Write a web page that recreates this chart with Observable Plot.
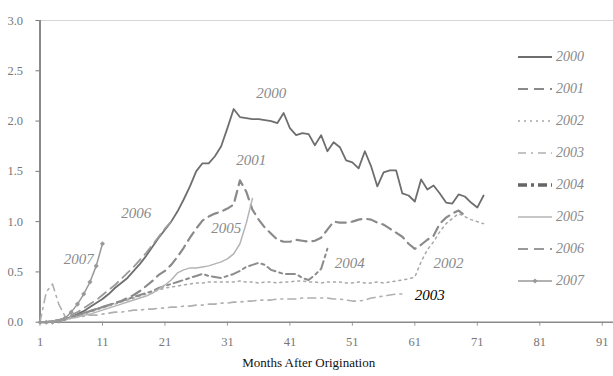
<!DOCTYPE html>
<html>
<head>
<meta charset="utf-8">
<script src="https://cdn.jsdelivr.net/npm/d3@7"></script>
<script src="https://cdn.jsdelivr.net/npm/@observablehq/plot@0.6"></script>
<style>
  html, body { margin: 0; padding: 0; background: #fff; }
  #wrap { position: relative; width: 613px; height: 376px; font-family: "Liberation Serif", serif; }
  #wrap svg text { font-family: "Liberation Serif", serif; }
  #legend { position: absolute; left: 517px; top: 41px; }
  .row { height: 32px; display: flex; align-items: center; }
  .row span { font-style: italic; font-size: 14px; color: #888; margin-left: 3px; font-family: "Liberation Serif", serif; }
</style>
</head>
<body>
<div id="wrap"></div>
<script>
// ---- data: value per month after origination, starting at month 1
const v2000 = [0,0,0.01,0.02,0.03,0.05,0.08,0.11,0.15,0.19,
  0.23,0.28,0.34,0.39,0.44,0.51,0.58,0.66,0.75,0.84,
  0.92,1.0,1.1,1.22,1.35,1.5,1.58,1.58,1.65,1.75,
  1.93,2.12,2.04,2.03,2.02,2.02,2.01,2.0,1.98,2.08,
  1.93,1.86,1.88,1.87,1.76,1.86,1.7,1.79,1.74,1.61,
  1.59,1.53,1.7,1.55,1.35,1.49,1.51,1.51,1.28,1.26,
  1.2,1.42,1.32,1.36,1.28,1.19,1.18,1.27,1.25,1.19,
  1.14,1.26];
const v2001 = [0,0,0.01,0.02,0.03,0.05,0.07,0.09,0.11,0.13,
  0.15,0.17,0.19,0.21,0.24,0.27,0.31,0.36,0.41,0.47,
  0.51,0.57,0.65,0.74,0.84,0.93,1.01,1.05,1.08,1.1,
  1.13,1.17,1.41,1.3,1.12,1.02,0.94,0.88,0.82,0.8,
  0.8,0.82,0.81,0.8,0.81,0.84,0.92,1.0,0.99,0.99,
  1.0,1.02,1.03,1.02,0.99,0.97,0.93,0.89,0.85,0.78,
  0.73,0.77,0.82,0.86,0.98,1.04,1.08,1.11,1.06];
const v2002 = [0,0,0,0.01,0.02,0.04,0.06,0.08,0.1,0.12,
  0.14,0.16,0.18,0.2,0.22,0.24,0.26,0.28,0.3,0.32,
  0.34,0.35,0.36,0.37,0.38,0.39,0.39,0.4,0.4,0.4,
  0.4,0.4,0.41,0.4,0.4,0.39,0.4,0.4,0.39,0.4,
  0.4,0.41,0.41,0.4,0.4,0.39,0.4,0.4,0.4,0.39,
  0.39,0.4,0.39,0.39,0.4,0.39,0.4,0.41,0.42,0.43,
  0.45,0.6,0.72,0.8,0.9,0.98,1.03,1.08,1.05,1.02,
  1.0,0.98];
const v2003 = [0,0.3,0.38,0.18,0.06,0.05,0.05,0.06,0.07,0.07,
  0.08,0.09,0.1,0.1,0.11,0.12,0.12,0.13,0.13,0.14,
  0.14,0.15,0.15,0.16,0.16,0.17,0.17,0.18,0.18,0.19,
  0.19,0.2,0.2,0.21,0.21,0.22,0.22,0.22,0.23,0.23,
  0.23,0.23,0.24,0.24,0.24,0.24,0.24,0.23,0.23,0.22,
  0.21,0.21,0.22,0.24,0.25,0.26,0.27,0.28,0.28];
const v2004 = [0,0,0,0.01,0.03,0.05,0.07,0.09,0.11,0.13,
  0.15,0.17,0.19,0.21,0.23,0.25,0.27,0.29,0.31,0.34,
  0.36,0.38,0.4,0.42,0.44,0.46,0.48,0.46,0.45,0.44,
  0.46,0.48,0.51,0.55,0.57,0.59,0.57,0.52,0.5,0.48,
  0.48,0.48,0.44,0.42,0.47,0.53,0.73];
const v2005 = [0,0,0.01,0.02,0.03,0.04,0.05,0.07,0.08,0.1,
  0.12,0.14,0.16,0.18,0.2,0.22,0.24,0.26,0.29,0.33,
  0.37,0.42,0.49,0.52,0.54,0.54,0.55,0.56,0.58,0.6,
  0.63,0.68,0.78,0.98,1.23];
const v2006 = [0,0,0.01,0.02,0.04,0.07,0.1,0.14,0.18,0.22,
  0.27,0.32,0.37,0.43,0.49,0.55,0.62,0.69,0.77,0.85,
  0.93,1.0];
const v2007 = [0,0,0,0.01,0.04,0.1,0.18,0.28,0.4,0.56,0.78];

const seriesNames = ["2000","2001","2002","2003","2004","2005","2006","2007"];
const seriesValues = [v2000,v2001,v2002,v2003,v2004,v2005,v2006,v2007];
const xTicks = [1,11,21,31,41,51,61,71,81,91];
const yTicks = [0,0.5,1.0,1.5,2.0,2.5,3.0];
const xTitle = "Months After Origination";
// in-chart series labels (anchor in data units: month, value)
const labelNames  = ["2000","2001","2005","2006","2007","2004","2002","2003"];
const labelMonths = [38.0, 34.8, 30.8, 16.4, 7.2, 50.6, 66.4, 63.4];
const labelValues = [2.28, 1.61, 0.93, 1.08, 0.63, 0.59, 0.59, 0.27];

// styles
const strokes = ["#6e6e6e","#8a8a8a","#a8a8a8","#b0b0b0","#8c8c8c","#b4b4b4","#9a9a9a","#999999"];
const widths  = [1.8, 2.2, 1.5, 1.6, 2.0, 1.5, 1.8, 1.5];
const dashes  = [null, "10,6", "2,4", "8,5,2,5", "9,4,3,4", null, "10,6", null];
const legendStrokes = ["#6e6e6e","#8a8a8a","#a8a8a8","#b0b0b0","#666666","#b4b4b4","#9a9a9a","#999999"];
const legendWidths  = [1.8, 2.2, 1.5, 1.6, 3.5, 1.5, 1.8, 1.5];

const rows = seriesNames.flatMap((s, k) => seriesValues[k].map((v, i) => ({series: s, month: i + 1, value: v})));
const labels = labelNames.map((t, i) => ({t, month: labelMonths[i], value: labelValues[i]}));

const marks = [
  Plot.ruleY([3], {stroke: "#d6d6d6", strokeWidth: 1.2}),
  Plot.ruleY([0], {stroke: "#8a8a8a", strokeWidth: 1.5}),
  Plot.ruleX([1], {stroke: "#8a8a8a", strokeWidth: 2}),
  ...seriesNames.map((s, k) => Plot.line(rows.filter(d => d.series === s), {
    x: "month", y: "value", stroke: strokes[k], strokeWidth: widths[k],
    strokeDasharray: dashes[k], curve: "linear"
  })),
  Plot.dot(rows.filter(d => d.series === "2007"), {x: "month", y: "value", r: 2.3, fill: "#999", symbol: "diamond2"}),
  Plot.text(labels, {x: "month", y: "value", text: "t", fontStyle: "italic", fontSize: 15,
    fill: d => d.t === "2003" ? "#000" : "#8a8a8a", fontWeight: d => d.t === "2003" ? "bold" : "normal"}),
  Plot.text([xTitle], {frameAnchor: "bottom", dx: -18, dy: 45, fontSize: 13, fill: "#111"})
];

const chart = Plot.plot({
  width: 613, height: 376,
  marginLeft: 39.5, marginRight: 0, marginTop: 20, marginBottom: 54.3,
  style: {fontFamily: "'Liberation Serif', serif", background: "#fff"},
  x: {domain: [1, 92.8], ticks: xTicks, tickFormat: d => String(d), label: null},
  y: {domain: [0, 3], ticks: yTicks, tickFormat: d3.format(".1f"), label: null},
  marks: [
    Plot.axisX({ticks: xTicks, tickFormat: d => String(d), label: null, tickSize: 4, tickPadding: 11, fontSize: 12.5, color: "#777", stroke: "#999"}),
    Plot.axisY({ticks: yTicks, tickFormat: d3.format(".1f"), label: null, tickSize: 4, tickPadding: 13, fontSize: 12.5, color: "#777"}),
    ...marks
  ]
});

const wrap = document.getElementById("wrap");
wrap.appendChild(chart);

// legend overlay built from the same style arrays
const legend = document.createElement("div");
legend.id = "legend";
seriesNames.forEach((s, k) => {
  const row = document.createElement("div");
  row.className = "row";
  const ns = "http://www.w3.org/2000/svg";
  const svg = document.createElementNS(ns, "svg");
  svg.setAttribute("width", 36); svg.setAttribute("height", 10);
  const ln = document.createElementNS(ns, "line");
  ln.setAttribute("x1", 1); ln.setAttribute("x2", 35); ln.setAttribute("y1", 5); ln.setAttribute("y2", 5);
  ln.setAttribute("stroke", legendStrokes[k]); ln.setAttribute("stroke-width", legendWidths[k]);
  if (dashes[k]) ln.setAttribute("stroke-dasharray", dashes[k]);
  svg.appendChild(ln);
  if (s === "2007") {
    const c = document.createElementNS(ns, "path");
    c.setAttribute("d", "M18,2.5L20.5,5L18,7.5L15.5,5Z");
    c.setAttribute("fill", "#999");
    svg.appendChild(c);
  }
  row.appendChild(svg);
  const sp = document.createElement("span");
  sp.textContent = s;
  row.appendChild(sp);
  legend.appendChild(row);
});
wrap.appendChild(legend);
</script>
</body>
</html>
